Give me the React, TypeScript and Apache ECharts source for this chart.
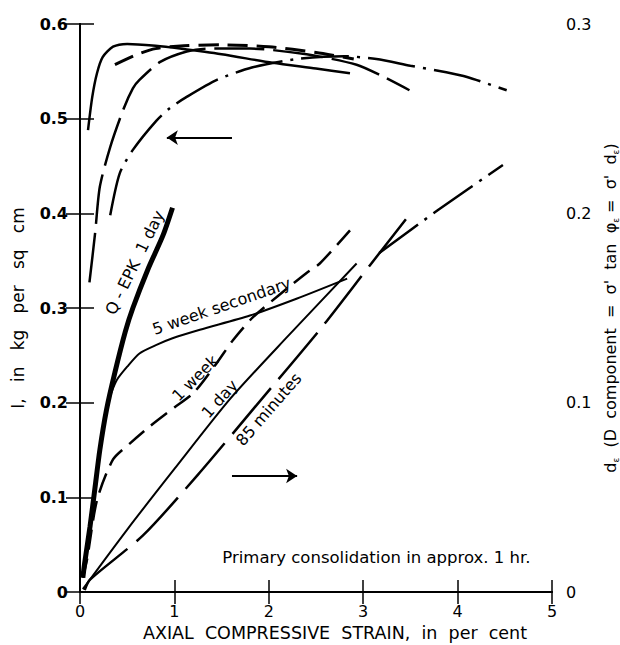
import React, { useEffect, useRef } from "react";
import * as echarts from "echarts";

// ---- data (x: axial strain %, upper curves: I kg/sq cm, lower curves: d_e) ----
const oneDayUpper = [[0.085,0.488],[0.13,0.523],[0.18,0.548],[0.24,0.565],[0.35,0.576],[0.5,0.579],[0.8,0.577],[1.06,0.574],[1.5,0.568],[2.04,0.559],[2.5,0.553],[2.86,0.548]];
const oneWeekUpper = [[0.37,0.557],[0.61,0.568],[0.8,0.574],[1.1,0.577],[1.5,0.578],[2.0,0.576],[2.5,0.57],[2.9,0.563]];
const min85Upper = [[0.1,0.327],[0.16,0.379],[0.21,0.428],[0.32,0.47],[0.46,0.51],[0.56,0.532],[0.63,0.541],[0.85,0.56],[1.13,0.571],[1.34,0.574],[1.8,0.574],[2.4,0.568],[2.93,0.557],[3.2,0.545],[3.49,0.53]];
const fiveWeekUpper = [[0.32,0.398],[0.42,0.442],[0.56,0.467],[0.81,0.498],[0.95,0.511],[1.13,0.523],[1.45,0.541],[1.82,0.554],[2.3,0.563],[2.8,0.566],[3.14,0.563],[3.5,0.556],[3.88,0.549],[4.1,0.544],[4.52,0.53]];

const qEpkLower = [[0.03,0.0075],[0.05,0.0155],[0.106,0.0345],[0.16,0.0555],[0.21,0.075],[0.28,0.096],[0.37,0.116],[0.48,0.1375],[0.56,0.15],[0.72,0.1705],[0.88,0.1885],[0.98,0.203]];
const fiveWeekLower = [[0.33,0.105],[0.39,0.112],[0.5,0.119],[0.63,0.126],[0.81,0.1305],[0.98,0.134],[1.27,0.1385],[1.8,0.146],[2.3,0.155],[2.83,0.1655]];
const fiveWeekExtension = [[3.17,0.179],[3.8,0.202],[4.48,0.2255]];
const oneWeekLower = [[0.03,0.0075],[0.074,0.017],[0.18,0.0485],[0.35,0.07],[0.53,0.0785],[0.74,0.0875],[1.0,0.0975],[1.2,0.105],[1.45,0.121],[1.62,0.133],[1.83,0.145],[2.1,0.1565],[2.4,0.1685],[2.54,0.1735],[2.86,0.191]];
const oneDayLower = [[0.03,0.0015],[0.5,0.033],[1.0,0.065],[1.59,0.102],[2.2,0.135],[2.93,0.1735]];
const min85Lower = [[0.05,0.001],[0.106,0.0065],[0.67,0.03],[1.25,0.062],[1.85,0.0975],[2.54,0.1385],[3.07,0.1725],[3.51,0.2005]];

const leftArrow = [[1.61, 0.48], [0.92, 0.48]];
const rightArrow = [[1.61, 0.1225], [2.3, 0.1225]];

const curveLabels = [
  { text: "Q - EPK  1 day", at: [0.58, 0.348], angle: 64, size: 16 },
  { text: "5 week secondary", at: [1.5, 0.302], angle: 19, size: 16 },
  { text: "1 week", at: [1.22, 0.226], angle: 45, size: 16 },
  { text: "1 day", at: [1.48, 0.204], angle: 48, size: 16 },
  { text: "85 minutes", at: [2.0, 0.193], angle: 49, size: 16 },
  { text: "Primary consolidation in approx. 1 hr.", at: [3.14, 0.036], angle: 0, size: 16.5 },
];

const FONT = "'DejaVu Sans', sans-serif";

function line(name: string, data: number[][], yAxisIndex: number, width: number, type: any) {
  return {
    name,
    type: "line",
    data,
    yAxisIndex,
    showSymbol: false,
    symbol: "none",
    smooth: 0.25,
    lineStyle: { color: "#000", width, type },
    silent: true,
  };
}

export default function App() {
  const ref = useRef<HTMLDivElement>(null);
  useEffect(() => {
    if (!ref.current) return;
    document.documentElement.style.overflow = "hidden";
    document.body.style.margin = "0";
    const chart = echarts.init(ref.current, null, { renderer: "svg" });
    const option: any = {
      animation: false,
      backgroundColor: "#fff",
      grid: { left: 80, right: 68, top: 24, bottom: 53, containLabel: false, outerBoundsMode: "none" },
      xAxis: [
        {
          type: "value", min: 0, max: 5, interval: 1, position: "bottom",
          name: "AXIAL  COMPRESSIVE  STRAIN,  in  per  cent",
          nameLocation: "middle", nameGap: 32,
          nameTextStyle: { color: "#000", fontSize: 17.5, fontFamily: FONT, padding: [0, 0, 0, 38] },
          axisLine: { show: true, lineStyle: { color: "#000", width: 2 } },
          axisTick: { show: true, inside: true, length: 12, lineStyle: { color: "#000", width: 1.5 } },
          axisLabel: { color: "#000", fontSize: 16, fontFamily: FONT, margin: 11 },
          splitLine: { show: false },
        },
        {
          type: "value", min: 0, max: 5, interval: 1, position: "top",
          axisLine: { show: true, lineStyle: { color: "#000", width: 2 } },
          axisTick: { show: true, inside: true, length: 12, lineStyle: { color: "#000", width: 1.5 } },
          axisLabel: { show: false },
          splitLine: { show: false },
        },
      ],
      yAxis: [
        {
          type: "value", min: 0, max: 0.6, interval: 0.1, position: "left",
          name: "I,   in   kg   per   sq   cm", nameLocation: "middle", nameGap: 54, nameRotate: 90,
          nameTextStyle: { color: "#000", fontSize: 17, fontFamily: FONT },
          axisLine: { show: true, lineStyle: { color: "#000", width: 2 } },
          axisTick: { show: true, inside: true, length: 14, lineStyle: { color: "#000", width: 1.5 } },
          axisLabel: {
            color: "#000", fontSize: 16, fontWeight: "bold", fontFamily: FONT, margin: 12,
            formatter: (v: number) => (v === 0 ? "0" : v.toFixed(1)),
          },
          splitLine: { show: false },
        },
        {
          type: "value", min: 0, max: 0.3, interval: 0.05, position: "right",
          name: "d{sub|ε}  (D  component  =  σ'  tan  φ{sub|ε} =  σ'  d{sub|ε})",
          nameLocation: "middle", nameGap: 37, nameRotate: 90,
          nameTextStyle: {
            color: "#000", fontSize: 16, fontFamily: FONT,
            rich: { sub: { fontSize: 9, fontFamily: FONT, color: "#000", verticalAlign: "bottom", lineHeight: 20 } },
          },
          axisLine: { show: true, lineStyle: { color: "#000", width: 2 } },
          axisTick: { show: true, inside: true, length: 14, lineStyle: { color: "#000", width: 1.5 } },
          axisLabel: {
            color: "#000", fontSize: 16, fontFamily: FONT, margin: 14,
            formatter: (v: number) => {
              const k = Math.round(v * 100);
              if (k % 10 !== 0) return "";
              return k === 0 ? "0" : (k / 100).toFixed(1);
            },
          },
          splitLine: { show: false },
        },
      ],
      series: [
        {
          ...line("1 day (I)", oneDayUpper, 0, 2.5, "solid"),
          markLine: {
            silent: true,
            symbol: ["none", "arrow"],
            symbolSize: 11,
            label: { show: false },
            lineStyle: { color: "#000", width: 2, type: "solid" },
            data: [
              [{ coord: leftArrow[0] }, { coord: leftArrow[1] }],
              [{ coord: rightArrow[0] }, { coord: rightArrow[1] }],
            ],
          },
        },
        line("1 week (I)", oneWeekUpper, 0, 3, [20, 9]),
        line("85 minutes (I)", min85Upper, 0, 2.5, [50, 9]),
        line("5 week secondary (I)", fiveWeekUpper, 0, 2.5, [48, 8, 3, 8]),
        line("Q-EPK 1 day (d)", qEpkLower, 1, 5, "solid"),
        line("5 week secondary (d)", fiveWeekLower, 1, 2, "solid"),
        line("5 week secondary ext (d)", fiveWeekExtension, 1, 2.5, [48, 8, 3, 8]),
        line("1 week (d)", oneWeekLower, 1, 2.5, [20, 9]),
        line("1 day (d)", oneDayLower, 1, 2, "solid"),
        line("85 minutes (d)", min85Lower, 1, 2.5, [60, 12]),
      ],
    };
    chart.setOption(option);

    const graphic = curveLabels.map((l) => {
      const p = chart.convertToPixel({ xAxisIndex: 0, yAxisIndex: 0 }, l.at) as number[];
      return {
        type: "text",
        x: p[0],
        y: p[1],
        rotation: (l.angle * Math.PI) / 180,
        silent: true,
        style: {
          text: l.text,
          fill: "#000",
          fontSize: l.size,
          fontFamily: FONT,
          align: "center",
          verticalAlign: "middle",
        },
      };
    });
    chart.setOption({ graphic });

    return () => chart.dispose();
  }, []);
  return <div ref={ref} style={{ position: "absolute", left: 0, top: 0, width: 620, height: 645 }} />;
}
